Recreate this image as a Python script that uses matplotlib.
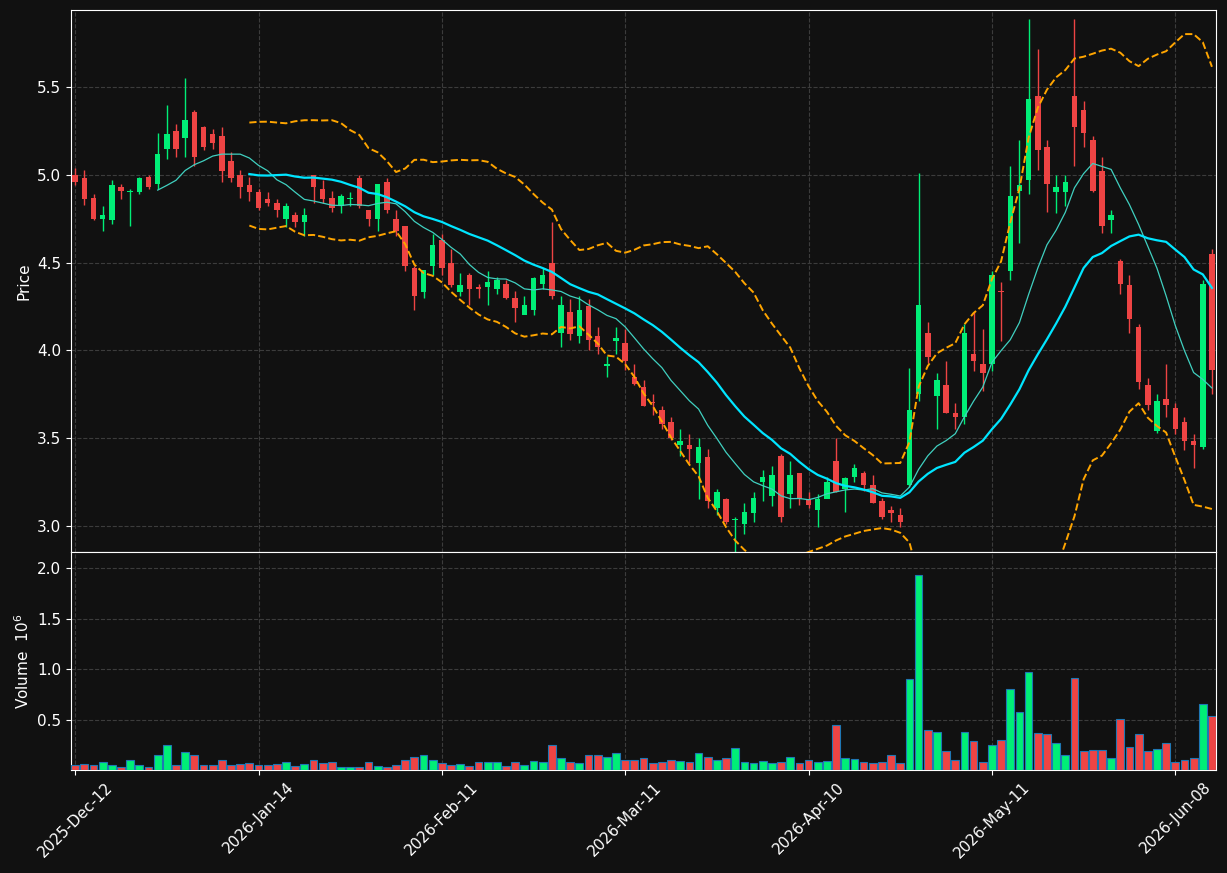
"""Daily candlestick chart with 10/20-bar averages, Bollinger bands and volume."""

import matplotlib

matplotlib.use("Agg")
import matplotlib.pyplot as plt
import numpy as np
import pandas as pd

# Values (one per trading bar).
opens = [
    5.00, 4.98, 4.87, 4.75, 4.74, 4.93, 4.90, 4.90, 4.99, 4.95,
    5.15, 5.25, 5.21, 5.36, 5.27, 5.23, 5.22, 5.08, 5.00, 4.94,
    4.90, 4.86, 4.84, 4.75, 4.77, 4.73, 5.00, 4.92, 4.87, 4.82,
    4.86, 4.98, 4.80, 4.75, 4.96, 4.75, 4.71, 4.47, 4.33, 4.48,
    4.63, 4.50, 4.33, 4.43, 4.36, 4.36, 4.35, 4.38, 4.30, 4.20,
    4.23, 4.38, 4.50, 4.10, 4.22, 4.08, 4.25, 4.08, 3.91, 4.05,
    4.04, 3.85, 3.79, 3.705, 3.66, 3.59, 3.46, 3.46, 3.36, 3.39,
    3.10, 3.15, 3.03, 3.01, 3.07, 3.25, 3.17, 3.40, 3.18, 3.30,
    3.15, 3.09, 3.15, 3.37, 3.21, 3.28, 3.30, 3.23, 3.14, 3.09,
    3.06, 3.23, 3.75, 4.10, 3.74, 3.80, 3.64, 3.62, 3.98, 3.92,
    3.92, 4.34, 4.45, 4.91, 4.97, 5.45, 5.16, 4.90, 4.90, 5.45,
    5.37, 5.20, 5.02, 4.74, 4.51, 4.37, 4.13, 3.80, 3.54, 3.72,
    3.67, 3.59, 3.48, 3.45, 4.55,
]
closes = [
    4.96, 4.86, 4.75, 4.77, 4.94, 4.91, 4.91, 4.98, 4.93, 5.12,
    5.23, 5.15, 5.31, 5.10, 5.16, 5.18, 5.02, 4.98, 4.93, 4.90,
    4.81, 4.84, 4.80, 4.82, 4.73, 4.77, 4.93, 4.86, 4.81, 4.88,
    4.87, 4.82, 4.75, 4.95, 4.80, 4.68, 4.48, 4.31, 4.46, 4.60,
    4.47, 4.37, 4.37, 4.35, 4.35, 4.39, 4.40, 4.30, 4.24, 4.26,
    4.41, 4.43, 4.31, 4.26, 4.09, 4.23, 4.06, 4.02, 3.92, 4.07,
    3.94, 3.81, 3.68, 3.70, 3.58, 3.50, 3.48, 3.44, 3.45, 3.14,
    3.19, 3.02, 3.04, 3.08, 3.16, 3.28, 3.29, 3.05, 3.29, 3.15,
    3.12, 3.15, 3.25, 3.19, 3.27, 3.33, 3.23, 3.13, 3.05, 3.07,
    3.02, 3.66, 4.26, 3.96, 3.83, 3.64, 3.62, 4.10, 3.94, 3.87,
    4.43, 4.33, 4.88, 4.94, 5.43, 5.14, 4.95, 4.93, 4.96, 5.27,
    5.24, 4.91, 4.71, 4.77, 4.38, 4.18, 3.82, 3.69, 3.71, 3.69,
    3.55, 3.48, 3.46, 4.38, 3.89,
]
highs = [
    5.04, 5.03, 4.89, 4.82, 4.97, 4.95, 4.92, 4.99, 5.00, 5.24,
    5.40, 5.29, 5.55, 5.37, 5.28, 5.26, 5.27, 5.13, 5.03, 4.99,
    4.92, 4.90, 4.86, 4.84, 4.79, 4.81, 5.00, 4.97, 4.91, 4.89,
    4.90, 5.00, 4.80, 4.95, 4.98, 4.80, 4.71, 4.48, 4.46, 4.66,
    4.66, 4.58, 4.44, 4.44, 4.38, 4.45, 4.42, 4.40, 4.34, 4.31,
    4.42, 4.47, 4.73, 4.31, 4.29, 4.31, 4.29, 4.13, 3.97, 4.13,
    4.12, 3.92, 3.83, 3.75, 3.68, 3.62, 3.55, 3.52, 3.50, 3.44,
    3.21, 3.16, 3.05, 3.13, 3.19, 3.32, 3.34, 3.41, 3.37, 3.30,
    3.19, 3.18, 3.28, 3.50, 3.28, 3.35, 3.31, 3.29, 3.16, 3.11,
    3.10, 3.90, 5.01, 4.16, 3.87, 3.94, 3.70, 4.15, 4.22, 4.12,
    4.45, 4.39, 5.05, 5.20, 5.89, 5.72, 5.20, 5.00, 5.00, 5.89,
    5.42, 5.22, 5.10, 4.80, 4.52, 4.43, 4.15, 3.84, 3.75, 3.92,
    3.70, 3.62, 3.52, 4.40, 4.58,
]
lows = [
    4.94, 4.83, 4.74, 4.68, 4.72, 4.86, 4.71, 4.89, 4.92, 4.92,
    5.09, 5.10, 5.10, 5.05, 5.14, 5.15, 4.96, 4.96, 4.87, 4.85,
    4.80, 4.82, 4.76, 4.70, 4.70, 4.65, 4.84, 4.84, 4.79, 4.78,
    4.82, 4.81, 4.71, 4.68, 4.78, 4.65, 4.45, 4.23, 4.30, 4.43,
    4.43, 4.36, 4.31, 4.26, 4.30, 4.26, 4.32, 4.29, 4.16, 4.23,
    4.20, 4.35, 4.29, 4.02, 4.06, 4.04, 4.00, 3.98, 3.85, 3.98,
    3.89, 3.80, 3.68, 3.63, 3.55, 3.49, 3.40, 3.36, 3.15, 3.10,
    3.06, 3.01, 2.85, 2.95, 3.02, 3.14, 3.11, 3.02, 3.10, 3.12,
    3.10, 2.99, 3.24, 3.19, 3.08, 3.25, 3.20, 3.13, 3.04, 3.02,
    2.99, 3.22, 3.71, 3.93, 3.55, 3.64, 3.55, 3.58, 3.88, 3.77,
    3.88, 4.05, 4.40, 4.61, 4.89, 5.03, 4.79, 4.78, 4.82, 5.05,
    5.16, 4.90, 4.67, 4.67, 4.32, 4.10, 3.78, 3.66, 3.53, 3.62,
    3.52, 3.43, 3.33, 3.44, 3.75,
]
volumes = [  # millions of shares
    .05, .06, .05, .08, .05, .03, .10, .05, .03, .15,
    .25, .05, .18, .15, .05, .05, .10, .05, .06, .07,
    .05, .05, .06, .08, .04, .06, .10, .07, .08, .03,
    .03, .03, .08, .04, .03, .05, .10, .13, .15, .10,
    .07, .05, .06, .04, .08, .08, .08, .04, .08, .05,
    .09, .08, .25, .12, .08, .07, .15, .15, .13, .17,
    .10, .10, .12, .07, .08, .10, .09, .08, .17, .13,
    .10, .12, .22, .08, .07, .09, .07, .08, .13, .07,
    .10, .08, .09, .45, .12, .11, .08, .07, .08, .15,
    .07, .90, 1.93, .40, .38, .19, .10, .38, .29, .08,
    .25, .30, .80, .57, .97, .37, .36, .27, .15, .91,
    .19, .20, .20, .12, .51, .23, .36, .19, .21, .27,
    .08, .10, .12, .65, .53,
]
tick_labels = [
    "2025-Dec-12", "2026-Jan-14", "2026-Feb-11", "2026-Mar-11",
    "2026-Apr-10", "2026-May-11", "2026-Jun-08",
]

BG = "#111111"
UP = "#00ee77"
DOWN = "#ee4444"
GRID = "#3c3c3c"

o = np.array(opens)
c = np.array(closes)
x = np.arange(len(c))
up = c >= o
colors = np.where(up, UP, DOWN)

close_s = pd.Series(c)
mav10 = close_s.rolling(10).mean()
mav20 = close_s.rolling(20).mean()
std20 = close_s.rolling(20).std(ddof=0)
bb_up = mav20 + 2 * std20
bb_lo = mav20 - 2 * std20

fig = plt.figure(figsize=(12.27, 8.73), dpi=100, facecolor=BG)
ax = fig.add_axes([0.0579, 0.3677, 0.9332, 0.6209], facecolor=BG)
axv = fig.add_axes([0.0579, 0.118, 0.9332, 0.2497], facecolor=BG, sharex=ax)

ax.vlines(x, lows, highs, colors=colors, lw=1, zorder=2)
ax.bar(x, np.abs(c - o), bottom=np.minimum(o, c), width=0.6, color=colors, zorder=3)
ax.plot(x, mav10, color="#40d0c0", lw=0.9, zorder=4)
ax.plot(x, mav20, color="#00e5ff", lw=1.6, zorder=4)
ax.plot(x, bb_up, color="orange", ls="--", lw=1.4, zorder=4)
ax.plot(x, bb_lo, color="orange", ls="--", lw=1.4, zorder=4)

axv.bar(x, volumes, width=0.85, color=colors, edgecolor="#1f77b4", lw=0.8, zorder=3)

ticks = list(range(0, len(c), 20))
for a in (ax, axv):
    a.grid(True, color=GRID, ls="--", lw=0.8, zorder=0)
    a.set_axisbelow(True)
    a.tick_params(colors="white", labelsize=11)
    for sp in a.spines.values():
        sp.set_color("white")
    a.set_xticks(ticks)

ax.set_xlim(-0.45, len(c) - 0.55)
ax.set_ylim(2.85, 5.94)
ax.set_yticks([3.0, 3.5, 4.0, 4.5, 5.0, 5.5])
ax.set_ylabel("Price", color="white", fontsize=11)
ax.tick_params(labelbottom=False)

axv.set_ylim(0, 2.16)
axv.set_yticks([0.5, 1.0, 1.5, 2.0])
axv.set_ylabel("Volume  $10^{6}$", color="white", fontsize=11)
axv.set_xticklabels(tick_labels, rotation=45, ha="center")

fig.savefig("out.png", facecolor=BG)
